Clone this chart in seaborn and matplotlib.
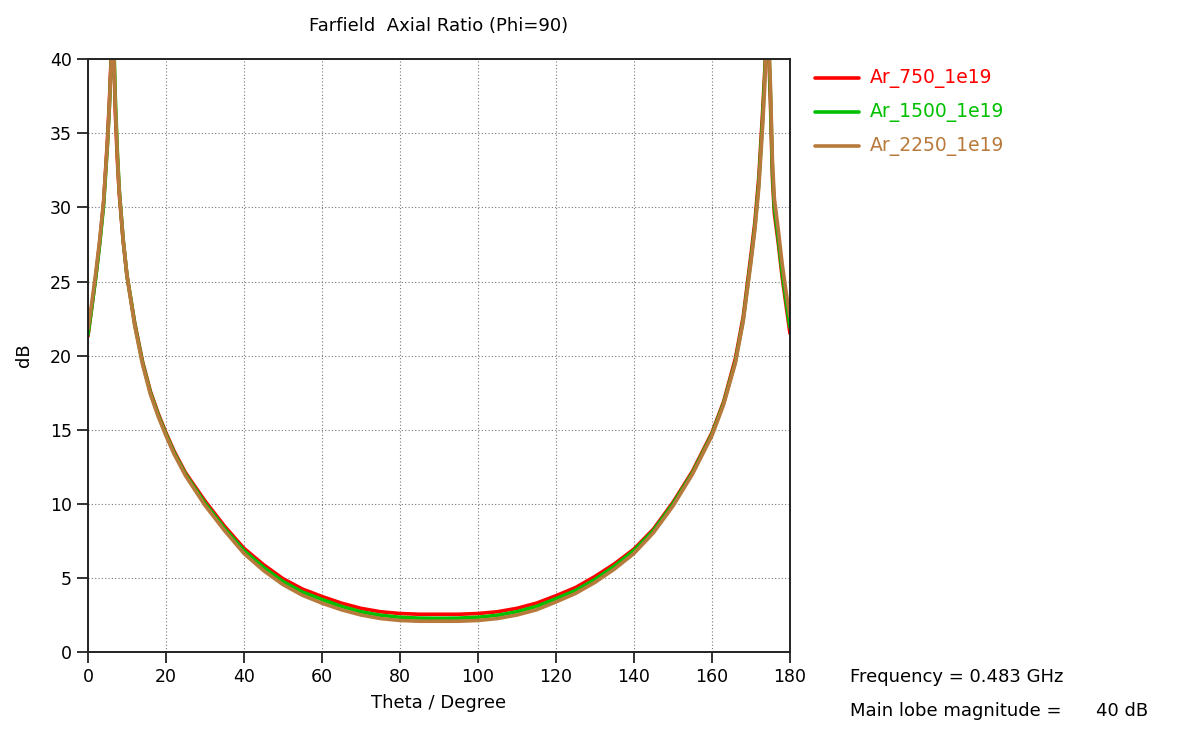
import pandas as pd
import matplotlib.pyplot as plt
import seaborn as sns

# theta grid (deg) shared by the three traces
theta = [0, 1, 2, 3, 4, 5, 5.5, 6, 6.3, 6.6, 7, 7.5, 8, 9, 10, 11, 12, 14, 16, 18,
         20, 22, 25, 30, 35, 40, 45, 50, 55, 60, 65, 70, 75, 80, 85, 90, 95, 100,
         105, 110, 115, 120, 125, 130, 135, 140, 145, 150, 155, 160, 163, 166, 168,
         170, 171, 172, 173, 173.5, 174, 174.5, 175, 175.5, 176, 177, 178, 179, 180]

ar_750 = [21.3, 23.3, 25.3, 27.6, 30.3, 34.6, 37.2, 40.5, 42.0, 40.5, 36.5, 33.4, 31.0, 27.8,
          25.4, 23.8, 22.2, 19.6, 17.6, 16.1, 14.8, 13.6, 12.1, 10.2, 8.5, 7.0, 5.9, 4.95,
          4.25, 3.75, 3.3, 2.95, 2.72, 2.6, 2.55, 2.55, 2.55, 2.6, 2.72, 2.95, 3.3, 3.8,
          4.35, 5.1, 5.95, 6.95, 8.3, 10.1, 12.2, 14.8, 16.9, 19.8, 22.6, 26.8, 29.0, 32.0,
          36.5, 39.0, 42.0, 41.0, 37.0, 32.0, 29.6, 27.6, 25.3, 23.4, 21.5]

ar_1500 = [21.4, 23.3, 25.3, 27.5, 30.1, 34.2, 36.8, 40.0, 41.5, 41.5, 37.5, 34.0, 31.3, 27.9,
           25.4, 23.8, 22.1, 19.5, 17.5, 16.0, 14.7, 13.5, 12.0, 10.05, 8.35, 6.85, 5.72, 4.76,
           4.05, 3.55, 3.08, 2.72, 2.48, 2.35, 2.29, 2.28, 2.29, 2.35, 2.48, 2.72, 3.08, 3.6,
           4.15, 4.9, 5.8, 6.85, 8.2, 10.0, 12.1, 14.7, 16.8, 19.6, 22.4, 26.5, 28.7, 31.6,
           36.0, 38.6, 41.8, 41.5, 37.6, 32.5, 30.0, 27.9, 25.6, 23.7, 21.9]

ar_2250 = [21.8, 23.6, 25.6, 27.8, 30.4, 34.3, 36.9, 40.2, 41.8, 41.0, 37.0, 33.7, 31.2, 27.9,
           25.4, 23.7, 22.0, 19.4, 17.4, 15.9, 14.6, 13.4, 11.9, 9.9, 8.2, 6.65, 5.5, 4.55,
           3.83, 3.3, 2.85, 2.5, 2.26, 2.13, 2.08, 2.08, 2.08, 2.13, 2.26, 2.5, 2.85, 3.38,
           3.95, 4.7, 5.6, 6.65, 8.05, 9.85, 12.0, 14.6, 16.7, 19.5, 22.3, 26.3, 28.5, 31.3,
           35.5, 38.0, 41.5, 41.8, 38.2, 33.2, 30.6, 28.5, 26.2, 24.3, 22.6]

labels = ["Ar_750_1e19", "Ar_1500_1e19", "Ar_2250_1e19"]
colors = ["#ff0000", "#00c000", "#b87a3c"]

frames = []
for name, vals in zip(labels, [ar_750, ar_1500, ar_2250]):
    frames.append(pd.DataFrame({"theta": theta, "ar": vals, "series": name}))
df = pd.concat(frames, ignore_index=True)

sns.set_style("ticks")
plt.rcParams["font.family"] = ["DejaVu Sans"]
plt.rcParams["text.color"] = "black"
plt.rcParams["axes.labelcolor"] = "black"
plt.rcParams["xtick.color"] = "black"
plt.rcParams["ytick.color"] = "black"

fig = plt.figure(figsize=(12, 7.31), dpi=100)
ax = fig.add_axes([0.0733, 0.108, 0.585, 0.811])

sns.lineplot(data=df, x="theta", y="ar", hue="series", palette=dict(zip(labels, colors)),
             linewidth=2.6, ax=ax, legend=False, sort=False, estimator=None)

ax.set_xlim(0, 180)
ax.set_ylim(0, 40)
ax.set_xticks(range(0, 181, 20))
ax.set_yticks(range(0, 41, 5))
ax.grid(True, linestyle=(0, (1, 2)), color="#777777", linewidth=0.8)
for s in ax.spines.values():
    s.set_color("#222222")
    s.set_linewidth(1.4)
ax.tick_params(labelsize=12.5, length=8, width=1.3, color="#222222")

ax.set_title("Farfield  Axial Ratio (Phi=90)", fontsize=13, pad=20)
ax.set_xlabel("Theta / Degree", fontsize=13, labelpad=6)
ax.set_ylabel("dB", fontsize=13, labelpad=12)

# legend on the right, text coloured as the line
for i, (name, c) in enumerate(zip(labels, colors)):
    y = 0.893 - i * 0.0465
    fig.add_artist(plt.Line2D([0.679, 0.716], [y, y], color=c, linewidth=2.6,
                              transform=fig.transFigure))
    fig.text(0.725, y, name, color=c, fontsize=13.5, va="center")

fig.text(0.708, 0.074, "Frequency = 0.483 GHz", fontsize=13, va="center")
fig.text(0.708, 0.027, "Main lobe magnitude =      40 dB", fontsize=13, va="center")

fig.savefig("out.png", dpi=100)
